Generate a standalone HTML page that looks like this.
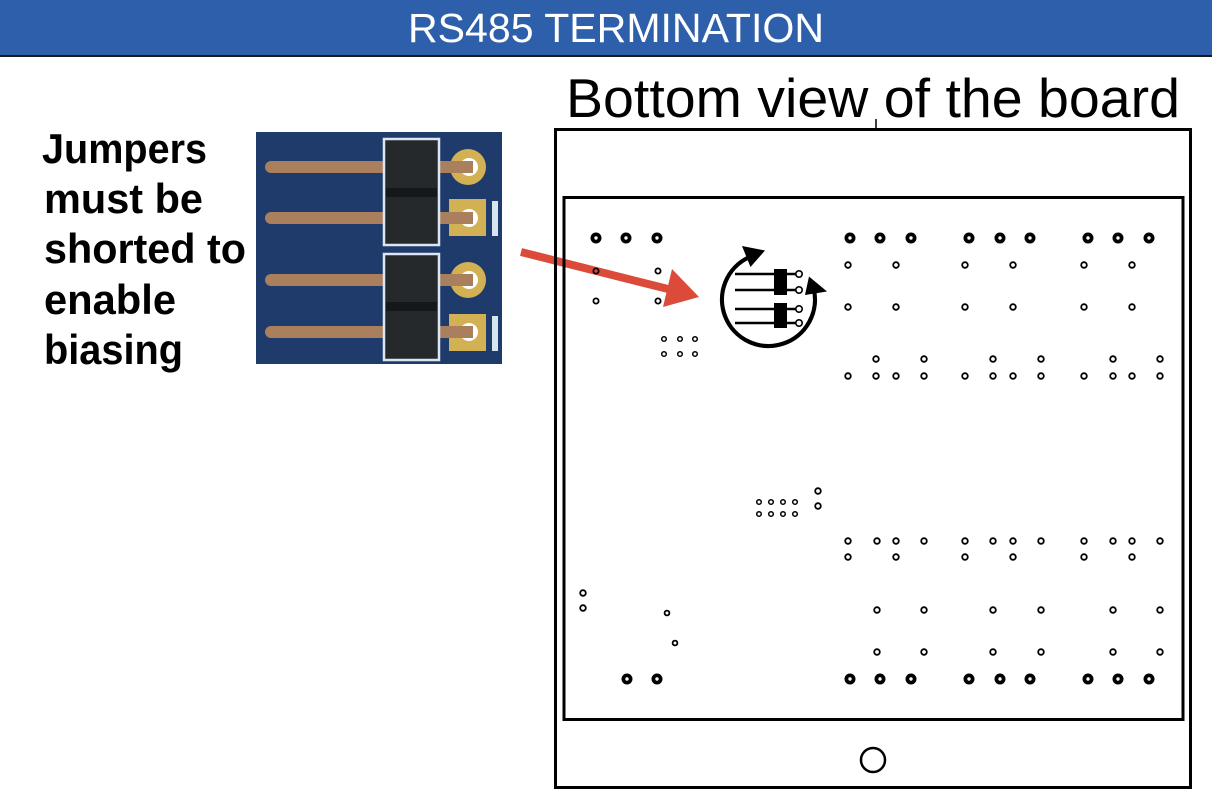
<!DOCTYPE html>
<html>
<head>
<meta charset="utf-8">
<style>
  html,body{margin:0;padding:0;background:#fff;}
  body{width:1212px;height:798px;overflow:hidden;}
  svg{display:block;}
</style>
</head>
<body>
<svg width="1212" height="798" viewBox="0 0 1212 798" xmlns="http://www.w3.org/2000/svg">
  <!-- header -->
  <rect x="0" y="0" width="1212" height="55" fill="#2E5FAA"/>
  <rect x="0" y="55" width="1212" height="2" fill="#1a1a1a"/>
  <text x="408" y="42" font-family="Liberation Sans, sans-serif" font-size="41" fill="#fff" textLength="416" lengthAdjust="spacingAndGlyphs">RS485 TERMINATION</text>

  <!-- title -->
  <text x="566" y="117" font-family="Liberation Sans, sans-serif" font-size="55" fill="#000" textLength="614" lengthAdjust="spacingAndGlyphs">Bottom view of the board</text>

  <!-- left text -->
  <g font-family="Liberation Sans, sans-serif" font-weight="bold" font-size="42" fill="#000">
    <text x="42" y="163" textLength="165" lengthAdjust="spacingAndGlyphs">Jumpers</text>
    <text x="44" y="213" textLength="159" lengthAdjust="spacingAndGlyphs">must be</text>
    <text x="44" y="263" textLength="202" lengthAdjust="spacingAndGlyphs">shorted to</text>
    <text x="44" y="314" textLength="132" lengthAdjust="spacingAndGlyphs">enable</text>
    <text x="44" y="364" textLength="139" lengthAdjust="spacingAndGlyphs">biasing</text>
  </g>

  <!-- jumper image -->
  <rect x="256" y="132" width="246" height="232" fill="#1E3B6C"/>
  <g fill="#D2B155">
    <circle cx="468" cy="167" r="18"/>
    <rect x="449" y="199" width="37" height="37"/>
    <circle cx="468" cy="280" r="18"/>
    <rect x="449" y="314" width="37" height="37"/>
  </g>
  <g fill="#fff">
    <circle cx="469" cy="167" r="9"/>
    <circle cx="469" cy="218" r="9"/>
    <circle cx="469" cy="280" r="9"/>
    <circle cx="469" cy="332" r="9"/>
  </g>
  <rect x="492" y="201" width="6" height="35" fill="#D8E4F0"/>
  <rect x="492" y="316" width="6" height="35" fill="#D8E4F0"/>
  <g fill="#A97F5D">
    <rect x="265" y="161" width="208" height="12" rx="6"/>
    <rect x="265" y="212" width="208" height="12" rx="6"/>
    <rect x="265" y="274" width="208" height="12" rx="6"/>
    <rect x="265" y="326" width="208" height="12" rx="6"/>
    <rect x="462" y="161" width="11" height="12"/>
    <rect x="462" y="212" width="11" height="12"/>
    <rect x="462" y="274" width="11" height="12"/>
    <rect x="462" y="326" width="11" height="12"/>
  </g>
  <rect x="384" y="139" width="55" height="106" fill="#25292C" stroke="#DCE6F0" stroke-width="2.5"/>
  <rect x="386" y="188" width="51" height="9" fill="#15181A"/>
  <rect x="384" y="254" width="55" height="106" fill="#25292C" stroke="#DCE6F0" stroke-width="2.5"/>
  <rect x="386" y="302" width="51" height="9" fill="#15181A"/>

  <!-- red arrow (beneath board drawing) -->
  <line x1="521" y1="252" x2="672" y2="290" stroke="#DC4B3A" stroke-width="8"/>
  <polygon points="672,269 699,297 663,307" fill="#DC4B3A"/>

  <!-- board outlines -->
  <rect x="555.5" y="129.5" width="635" height="658" fill="none" stroke="#000" stroke-width="3"/>
  <rect x="564" y="197.5" width="619" height="522" fill="none" stroke="#000" stroke-width="3"/>
  <line x1="876" y1="119" x2="876" y2="129" stroke="#000" stroke-width="1.5"/>
  <circle cx="873" cy="760" r="12" fill="none" stroke="#000" stroke-width="2.5"/>

  <!-- big holes -->
  <g fill="none" stroke="#000" stroke-width="3.8">
    <circle cx="596" cy="238" r="3.6"/>
    <circle cx="626" cy="238" r="3.6"/>
    <circle cx="657" cy="238" r="3.6"/>
    <circle cx="850" cy="238" r="3.6"/>
    <circle cx="880" cy="238" r="3.6"/>
    <circle cx="911" cy="238" r="3.6"/>
    <circle cx="969" cy="238" r="3.6"/>
    <circle cx="1000" cy="238" r="3.6"/>
    <circle cx="1030" cy="238" r="3.6"/>
    <circle cx="1088" cy="238" r="3.6"/>
    <circle cx="1118" cy="238" r="3.6"/>
    <circle cx="1149" cy="238" r="3.6"/>
    <circle cx="850" cy="679" r="3.6"/>
    <circle cx="880" cy="679" r="3.6"/>
    <circle cx="911" cy="679" r="3.6"/>
    <circle cx="969" cy="679" r="3.6"/>
    <circle cx="1000" cy="679" r="3.6"/>
    <circle cx="1030" cy="679" r="3.6"/>
    <circle cx="1088" cy="679" r="3.6"/>
    <circle cx="1118" cy="679" r="3.6"/>
    <circle cx="1149" cy="679" r="3.6"/>
    <circle cx="627" cy="679" r="3.6"/>
    <circle cx="657" cy="679" r="3.6"/>
  </g>

  <!-- small holes -->
  <g fill="none" stroke="#000" stroke-width="1.8">
    <circle cx="596" cy="271" r="2.6"/>
    <circle cx="658" cy="271" r="2.6"/>
    <circle cx="596" cy="301" r="2.6"/>
    <circle cx="658" cy="301" r="2.6"/>
    <circle cx="848" cy="265" r="2.8"/><circle cx="896" cy="265" r="2.8"/>
    <circle cx="965" cy="265" r="2.8"/><circle cx="1013" cy="265" r="2.8"/>
    <circle cx="1084" cy="265" r="2.8"/><circle cx="1132" cy="265" r="2.8"/>
    <circle cx="848" cy="307" r="2.8"/><circle cx="896" cy="307" r="2.8"/>
    <circle cx="965" cy="307" r="2.8"/><circle cx="1013" cy="307" r="2.8"/>
    <circle cx="1084" cy="307" r="2.8"/><circle cx="1132" cy="307" r="2.8"/>
    <circle cx="876" cy="359" r="2.8"/><circle cx="924" cy="359" r="2.8"/>
    <circle cx="993" cy="359" r="2.8"/><circle cx="1041" cy="359" r="2.8"/>
    <circle cx="1113" cy="359" r="2.8"/><circle cx="1160" cy="359" r="2.8"/>
    <circle cx="848" cy="376" r="2.8"/><circle cx="876" cy="376" r="2.8"/><circle cx="896" cy="376" r="2.8"/><circle cx="924" cy="376" r="2.8"/>
    <circle cx="965" cy="376" r="2.8"/><circle cx="993" cy="376" r="2.8"/><circle cx="1013" cy="376" r="2.8"/><circle cx="1041" cy="376" r="2.8"/>
    <circle cx="1084" cy="376" r="2.8"/><circle cx="1113" cy="376" r="2.8"/><circle cx="1132" cy="376" r="2.8"/><circle cx="1160" cy="376" r="2.8"/>
    <circle cx="848" cy="541" r="2.8"/><circle cx="877" cy="541" r="2.8"/><circle cx="896" cy="541" r="2.8"/><circle cx="924" cy="541" r="2.8"/>
    <circle cx="965" cy="541" r="2.8"/><circle cx="993" cy="541" r="2.8"/><circle cx="1013" cy="541" r="2.8"/><circle cx="1041" cy="541" r="2.8"/>
    <circle cx="1084" cy="541" r="2.8"/><circle cx="1113" cy="541" r="2.8"/><circle cx="1132" cy="541" r="2.8"/><circle cx="1160" cy="541" r="2.8"/>
    <circle cx="848" cy="557" r="2.8"/><circle cx="896" cy="557" r="2.8"/>
    <circle cx="965" cy="557" r="2.8"/><circle cx="1013" cy="557" r="2.8"/>
    <circle cx="1084" cy="557" r="2.8"/><circle cx="1132" cy="557" r="2.8"/>
    <circle cx="877" cy="610" r="2.8"/><circle cx="924" cy="610" r="2.8"/>
    <circle cx="993" cy="610" r="2.8"/><circle cx="1041" cy="610" r="2.8"/>
    <circle cx="1113" cy="610" r="2.8"/><circle cx="1160" cy="610" r="2.8"/>
    <circle cx="877" cy="652" r="2.8"/><circle cx="924" cy="652" r="2.8"/>
    <circle cx="993" cy="652" r="2.8"/><circle cx="1041" cy="652" r="2.8"/>
    <circle cx="1113" cy="652" r="2.8"/><circle cx="1160" cy="652" r="2.8"/>
    <circle cx="818" cy="491" r="2.8"/><circle cx="818" cy="506" r="2.8"/>
    <circle cx="583" cy="593" r="2.8"/><circle cx="583" cy="608" r="2.8"/>
    <circle cx="667" cy="613" r="2.4"/><circle cx="675" cy="643" r="2.4"/>
  </g>
  <g fill="none" stroke="#000" stroke-width="1.5">
    <circle cx="664" cy="339" r="2.3"/><circle cx="680" cy="339" r="2.3"/><circle cx="695" cy="339" r="2.3"/>
    <circle cx="664" cy="354" r="2.3"/><circle cx="680" cy="354" r="2.3"/><circle cx="695" cy="354" r="2.3"/>
    <circle cx="759" cy="502" r="2.3"/><circle cx="771" cy="502" r="2.3"/><circle cx="783" cy="502" r="2.3"/><circle cx="795" cy="502" r="2.3"/>
    <circle cx="759" cy="514" r="2.3"/><circle cx="771" cy="514" r="2.3"/><circle cx="783" cy="514" r="2.3"/><circle cx="795" cy="514" r="2.3"/>
  </g>

  <!-- rotation icon -->
  <path d="M 748.8 257.4 A 46.5 46.5 0 1 0 813.4 287.5" fill="none" stroke="#000" stroke-width="4.2"/>
  <polygon points="742,246 765,250.5 750.5,267" fill="#000"/>
  <polygon points="809,276.5 827,291.5 805,295" fill="#000"/>
  <g stroke="#000" stroke-width="2.4">
    <line x1="735" y1="274" x2="796" y2="274"/>
    <line x1="735" y1="290" x2="796" y2="290"/>
    <line x1="735" y1="309" x2="796" y2="309"/>
    <line x1="735" y1="323" x2="796" y2="323"/>
  </g>
  <rect x="774" y="269" width="13" height="26" fill="#000"/>
  <rect x="774" y="303" width="13" height="25" fill="#000"/>
  <g fill="#fff" stroke="#000" stroke-width="1.6">
    <circle cx="799" cy="274" r="3.2"/>
    <circle cx="799" cy="290" r="3.2"/>
    <circle cx="799" cy="309" r="3.2"/>
    <circle cx="799" cy="323" r="3.2"/>
  </g>
</svg>
</body>
</html>
